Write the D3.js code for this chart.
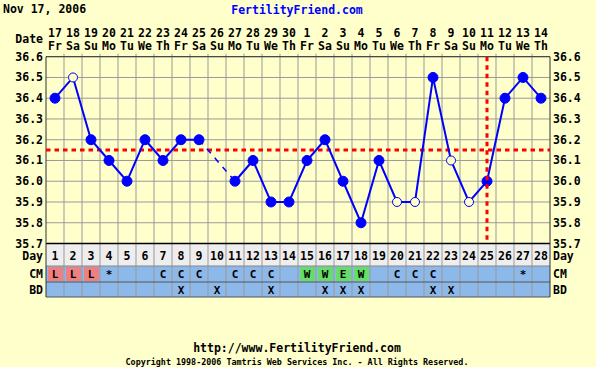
<!DOCTYPE html>
<html><head><meta charset="utf-8">
<script src="https://cdn.jsdelivr.net/npm/d3@7"></script>
<style>
html,body{margin:0;padding:0;background:#FFFFCC;}
svg{display:block;}
text{font-family:"DejaVu Sans Mono",monospace;font-weight:bold;fill:#000;}
</style></head>
<body>
<svg id="c" width="596" height="367"></svg>
<script>
const days = d3.range(1, 29);
const dates = [17,18,19,20,21,22,23,24,25,26,27,28,29,30,1,2,3,4,5,6,7,8,9,10,11,12,13,14];
const weekdays = ["Fr","Sa","Su","Mo","Tu","We","Th","Fr","Sa","Su","Mo","Tu","We","Th","Fr","Sa","Su","Mo","Tu","We","Th","Fr","Sa","Su","Mo","Tu","We","Th"];
const temps = [36.4,36.5,36.2,36.1,36.0,36.2,36.1,36.2,36.2,null,36.0,36.1,35.9,35.9,36.1,36.2,36.0,35.8,36.1,35.9,35.9,36.5,36.1,35.9,36.0,36.4,36.5,36.4];
const openPts = [2,20,21,23,24];
const cm = ["L","L","L","*","","","C","C","C","","C","C","C","","W","W","E","W","","C","C","C","","","","","*",""];
const bd = ["","","","","","","","X","","X","","","X","","","X","X","X","","","","X","X","","","","",""];
const yTicks = [36.6,36.5,36.4,36.3,36.2,36.1,36.0,35.9,35.8,35.7];
const coverline = 36.15;
const ovulationDay = 25;

const svg = d3.select("#c");
const L = 46, R = 550, T = 56.7, B = 243.5;
const x = d3.scaleBand().domain(days).range([L, R]);
const cx = d => x(d) + x.bandwidth()/2;
const y = d3.scaleLinear().domain([35.7, 36.6]).range([B, T]);
const rowDay = [243.5, 266], rowCM = [266, 282], rowBD = [282, 297];

// title
svg.append("text").attr("x", 3).attr("y", 13).attr("font-size", 11.5).text("Nov 17, 2006");
svg.append("text").attr("x", 297).attr("y", 14).attr("font-size", 11.5).attr("text-anchor","middle").style("fill","#0000FF").text("FertilityFriend.com");

// header
svg.append("text").attr("x", 43).attr("y", 43).attr("font-size", 11.5).attr("text-anchor","end").text("Date");
svg.selectAll(".dt").data(days).join("text").attr("x", d => cx(d)).attr("y", 37).attr("font-size", 11.5).attr("text-anchor","middle").text((d,i) => dates[i]);
svg.selectAll(".wd").data(days).join("text").attr("x", d => cx(d)).attr("y", 50).attr("font-size", 11.5).attr("text-anchor","middle").text((d,i) => weekdays[i]);

// row backgrounds
svg.append("rect").attr("x", L).attr("y", rowDay[0]).attr("width", R-L).attr("height", rowDay[1]-rowDay[0]).attr("fill", "#EEEEEE");
svg.append("rect").attr("x", L).attr("y", rowCM[0]).attr("width", R-L).attr("height", rowBD[1]-rowCM[0]).attr("fill", "#8DB8EA");

// cm colored cells
const cmColor = c => c === "L" ? "#F08080" : (c === "W" || c === "E") ? "#66DD66" : null;
svg.selectAll(".cmc").data(days.filter((d,i) => cmColor(cm[i]))).join("rect")
  .attr("x", d => x(d) + 2).attr("y", rowCM[0] + 1).attr("width", x.bandwidth() - 3).attr("height", rowCM[1]-rowCM[0]-2)
  .attr("fill", d => cmColor(cm[d-1]));

// grid
svg.selectAll(".hg").data(yTicks).join("line")
  .attr("x1", L).attr("x2", R).attr("y1", d => y(d)).attr("y2", d => y(d)).attr("stroke", "#999").attr("stroke-width", 1);
const vb = d3.range(1, 28).map(d => x(d) + x.bandwidth());
svg.selectAll(".vg").data(vb).join("line")
  .attr("x1", d => d).attr("x2", d => d).attr("y1", T - 3).attr("y2", rowBD[1]).attr("stroke", "#999").attr("stroke-width", 1);

// borders
svg.append("line").attr("x1", L).attr("x2", R).attr("y1", T).attr("y2", T).attr("stroke", "#333");
svg.append("line").attr("x1", L).attr("x2", R).attr("y1", B).attr("y2", B).attr("stroke", "#000").attr("stroke-width", 1.5);
svg.append("line").attr("x1", L).attr("x2", R).attr("y1", rowDay[1]).attr("y2", rowDay[1]).attr("stroke", "#888");
svg.append("line").attr("x1", L).attr("x2", R).attr("y1", rowCM[1]).attr("y2", rowCM[1]).attr("stroke", "#555");
svg.append("line").attr("x1", L).attr("x2", R).attr("y1", rowBD[1]).attr("y2", rowBD[1]).attr("stroke", "#555");
svg.append("line").attr("x1", L).attr("x2", L).attr("y1", T).attr("y2", rowBD[1]).attr("stroke", "#333");
svg.append("line").attr("x1", R).attr("x2", R).attr("y1", T).attr("y2", rowBD[1]).attr("stroke", "#333");

// y labels
svg.selectAll(".yl").data(yTicks).join("text").attr("x", 43).attr("y", d => y(d) + 4).attr("font-size", 11.5).attr("text-anchor","end").text(d => d.toFixed(1));
svg.selectAll(".yr").data(yTicks).join("text").attr("x", 553).attr("y", d => y(d) + 4).attr("font-size", 11.5).text(d => d.toFixed(1));

// row labels
[["Day", 260], ["CM", 278], ["BD", 294]].forEach(([t, yy]) => {
  svg.append("text").attr("x", 43).attr("y", yy).attr("font-size", 11.5).attr("text-anchor","end").text(t);
  svg.append("text").attr("x", 553).attr("y", yy).attr("font-size", 11.5).text(t);
});
svg.selectAll(".dn").data(days).join("text").attr("x", d => cx(d)).attr("y", 260).attr("font-size", 11.5).attr("text-anchor","middle").text(d => d);
svg.selectAll(".cmt").data(days).join("text").attr("x", d => cx(d)).attr("y", 278).attr("font-size", 11).attr("text-anchor","middle").text((d,i) => cm[i]);
svg.selectAll(".bdt").data(days).join("text").attr("x", d => cx(d)).attr("y", 294).attr("font-size", 11).attr("text-anchor","middle").text((d,i) => bd[i]);

// coverline
svg.append("line").attr("x1", L).attr("x2", R).attr("y1", y(coverline)).attr("y2", y(coverline))
  .attr("stroke", "#FF0000").attr("stroke-width", 3).attr("stroke-dasharray", "4.5,4");

// temperature line
const pts = days.map((d,i) => ({d, t: temps[i]}));
const line = d3.line().defined(p => p.t !== null).x(p => cx(p.d)).y(p => y(p.t));
svg.append("path").attr("d", line(pts)).attr("fill","none").attr("stroke","#0000FF").attr("stroke-width", 2);
const valid = pts.filter(p => p.t !== null);
const gaps = [];
for (let i = 1; i < valid.length; i++) if (valid[i].d - valid[i-1].d > 1) gaps.push([valid[i-1], valid[i]]);
gaps.forEach(g => svg.append("path").attr("d", d3.line().x(p => cx(p.d)).y(p => y(p.t))(g))
  .attr("fill","none").attr("stroke","#0000FF").attr("stroke-width", 1.5).attr("stroke-dasharray","6,6"));

svg.selectAll(".pt").data(valid).join("circle")
  .attr("cx", p => cx(p.d)).attr("cy", p => y(p.t)).attr("r", d => openPts.includes(d.d) ? 4.5 : 5)
  .attr("fill", p => openPts.includes(p.d) ? "#FFFFCC" : "#0000FF")
  .attr("stroke", "#0000FF").attr("stroke-width", 1);

// ovulation line
svg.append("line").attr("x1", cx(ovulationDay)).attr("x2", cx(ovulationDay)).attr("y1", T).attr("y2", B)
  .attr("stroke", "#FF0000").attr("stroke-width", 3).attr("stroke-dasharray", "4.5,4");

// footer
svg.append("text").attr("x", 297).attr("y", 352).attr("font-size", 11.5).attr("text-anchor","middle").text("http://www.FertilityFriend.com");
svg.append("text").attr("x", 297).attr("y", 365).attr("font-size", 8.4).attr("font-weight","normal").attr("text-anchor","middle").text("Copyright 1998-2006 Tamtris Web Services Inc. - All Rights Reserved.");
</script>
</body></html>
